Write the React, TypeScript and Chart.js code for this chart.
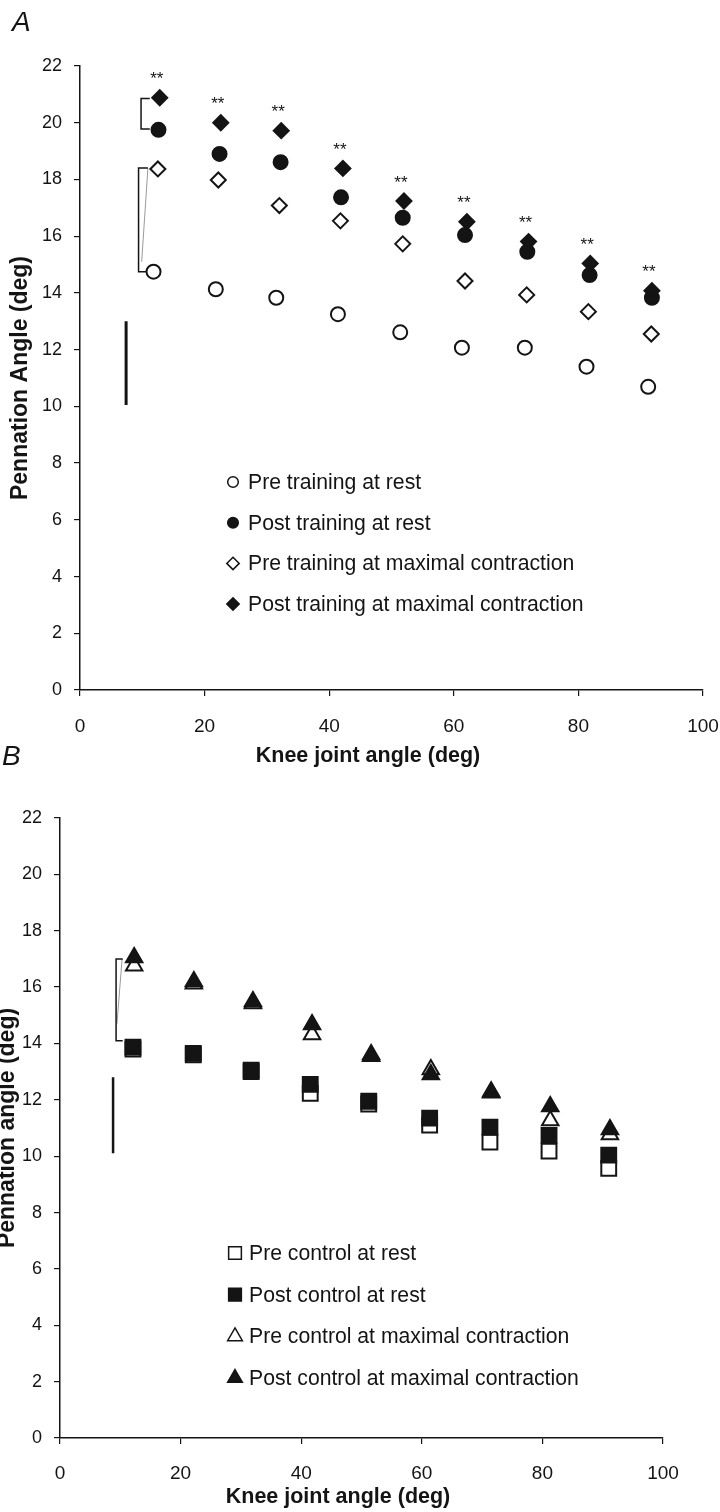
import React, { useEffect, useRef } from "react";
import { Chart, registerables } from "chart.js";

Chart.register(...registerables);

const FONT = "'Liberation Sans', Arial, Helvetica, sans-serif";
const INK = "#141414";

// ---- shared axis ticks ----
const xTickValues = [0, 20, 40, 60, 80, 100];
const yTickValues = [0, 2, 4, 6, 8, 10, 12, 14, 16, 18, 20, 22];
const xTitleText = "Knee joint angle (deg)";

// ---- Panel A (training group) ----
const aPreRestX = [11.8, 21.8, 31.5, 41.4, 51.4, 61.3, 71.4, 81.3, 91.2];
const aPreRestY = [14.75, 14.13, 13.83, 13.25, 12.61, 12.07, 12.07, 11.4, 10.69];
const aPostRestX = [12.6, 22.4, 32.2, 41.9, 51.8, 61.8, 71.8, 81.8, 91.8];
const aPostRestY = [19.75, 18.9, 18.61, 17.37, 16.65, 16.04, 15.45, 14.63, 13.83];
const aPreMaxX = [12.5, 22.2, 32.0, 41.8, 51.8, 61.8, 71.7, 81.6, 91.7];
const aPreMaxY = [18.37, 17.98, 17.08, 16.54, 15.73, 14.42, 13.93, 13.34, 12.55];
const aPostMaxX = [12.8, 22.6, 32.3, 42.2, 52.0, 62.1, 72.0, 81.9, 91.8];
const aPostMaxY = [20.88, 20.0, 19.72, 18.39, 17.24, 16.51, 15.81, 15.04, 14.08];
const aLabels = [
  "Pre training at rest",
  "Post training at rest",
  "Pre training at maximal contraction",
  "Post training at maximal contraction",
];
const aScaleBar = [{ x: 7.4, y: 13.0 }, { x: 7.4, y: 10.05 }];
const aBracketTop = [{ x: 11.2, y: 20.85 }, { x: 9.8, y: 20.85 }, { x: 9.8, y: 19.78 }, { x: 11.2, y: 19.78 }];
const aBracketLow = [{ x: 10.9, y: 18.4 }, { x: 9.4, y: 18.4 }, { x: 9.4, y: 14.75 }, { x: 10.9, y: 14.75 }];
const aBracketLowShade = [{ x: 10.9, y: 18.4 }, { x: 9.9, y: 15.1 }];

// ---- Panel B (control group) ----
const bRestX = [12.1, 22.1, 31.7, 41.5, 51.2, 61.3, 71.3, 81.1, 91.0];
const bPreRestY = [13.8, 13.6, 13.0, 12.23, 11.85, 11.1, 10.5, 10.18, 9.57];
const bPostRestY = [13.87, 13.65, 13.05, 12.55, 11.95, 11.35, 11.03, 10.74, 10.04];
const bMaxX = [12.3, 22.2, 32.0, 41.8, 51.6, 61.5, 71.5, 81.3, 91.2];
const bPreMaxY = [16.76, 16.12, 15.42, 14.32, 13.55, 13.08, 12.25, 11.27, 10.77];
const bPostMaxY = [17.05, 16.2, 15.49, 14.67, 13.61, 12.9, 12.29, 11.76, 10.95];
const bLabels = [
  "Pre control at rest",
  "Post control at rest",
  "Pre control at maximal contraction",
  "Post control at maximal contraction",
];
const bScaleBar = [{ x: 8.8, y: 12.8 }, { x: 8.8, y: 10.1 }];
const bBracket = [{ x: 10.4, y: 17.0 }, { x: 9.3, y: 17.0 }, { x: 9.3, y: 14.1 }, { x: 10.4, y: 14.1 }];
const bBracketShade = [{ x: 10.3, y: 17.0 }, { x: 9.45, y: 14.7 }];

type Style = "circle" | "rectRot" | "rect" | "triangle";

function drawMarker(ctx: CanvasRenderingContext2D, style: Style, x: number, y: number, r: number, filled: boolean, lw: number) {
  ctx.beginPath();
  if (style === "circle") ctx.arc(x, y, r, 0, Math.PI * 2);
  else if (style === "rectRot") {
    ctx.moveTo(x, y - r);
    ctx.lineTo(x + r, y);
    ctx.lineTo(x, y + r);
    ctx.lineTo(x - r, y);
    ctx.closePath();
  } else if (style === "rect") {
    const s = r * Math.SQRT1_2;
    ctx.rect(x - s, y - s, 2 * s, 2 * s);
  } else {
    ctx.moveTo(x, y - r);
    ctx.lineTo(x + r * 0.866, y + r / 2);
    ctx.lineTo(x - r * 0.866, y + r / 2);
    ctx.closePath();
  }
  ctx.fillStyle = filled ? INK : "#ffffff";
  ctx.fill();
  ctx.lineWidth = lw;
  ctx.strokeStyle = INK;
  ctx.stroke();
}

type LegendItem = { label: string; style: Style; filled: boolean; r: number };

type Overlay = {
  panel: { text: string; x: number; y: number };
  xTitle: { x: number; y: number };
  legend: { items: LegendItem[]; markerX: number; textX: number; y0: number; dy: number };
  stars?: { xs: number[]; ys: number[]; dx: number; dy: number };
};

function makeOverlay(cfg: Overlay) {
  return {
    id: "overlay",
    afterDraw(chart: any) {
      const ctx: CanvasRenderingContext2D = chart.ctx;
      const xs = chart.scales.x;
      const ys = chart.scales.y;
      ctx.save();
      ctx.fillStyle = INK;
      ctx.textBaseline = "middle";
      ctx.textAlign = "left";
      ctx.font = `italic 28px ${FONT}`;
      ctx.fillText(cfg.panel.text, cfg.panel.x, cfg.panel.y);
      ctx.textAlign = "center";
      ctx.font = `bold 21.5px ${FONT}`;
      ctx.fillText(xTitleText, cfg.xTitle.x, cfg.xTitle.y);
      if (cfg.stars) {
        ctx.font = `17px ${FONT}`;
        ctx.textAlign = "center";
        cfg.stars.xs.forEach((v, i) => {
          ctx.fillText("**", xs.getPixelForValue(v) + cfg.stars!.dx, ys.getPixelForValue(cfg.stars!.ys[i]) + cfg.stars!.dy);
        });
      }
      const L = cfg.legend;
      L.items.forEach((it, i) => {
        const cy = L.y0 + i * L.dy;
        drawMarker(ctx, it.style, L.markerX, cy, it.r, it.filled, 1.5);
        ctx.fillStyle = INK;
        ctx.textAlign = "left";
        ctx.font = `21.2px ${FONT}`;
        ctx.fillText(it.label, L.textX, cy + 1);
      });
      ctx.restore();
    },
  };
}

function pts(xs: number[], ys: number[]) {
  return xs.map((x, i) => ({ x, y: ys[i] }));
}

function markerSet(label: string, data: any[], style: Style, filled: boolean, r: number, order: number) {
  return {
    label,
    data,
    pointStyle: style,
    pointRadius: r,
    pointHoverRadius: r,
    pointBackgroundColor: filled ? INK : "#ffffff",
    pointBorderColor: INK,
    pointBorderWidth: 2,
    showLine: false,
    order,
  };
}

function lineSet(data: any[], color: string, width: number) {
  return {
    label: "",
    data,
    showLine: true,
    pointRadius: 0,
    pointHoverRadius: 0,
    borderColor: color,
    borderWidth: width,
    fill: false,
    order: 10,
  };
}

function axes(opts: { yTitle: string; yWidth: number; xHeight: number; yTitlePad: number; xPad: number }) {
  const grid = { drawOnChartArea: false, drawTicks: true, tickLength: 6, color: INK, lineWidth: 1.2 };
  const border = { display: true, color: INK, width: 1.5 };
  return {
    x: {
      type: "linear",
      min: 0,
      max: 100,
      afterBuildTicks: (s: any) => {
        s.ticks = xTickValues.map((v) => ({ value: v }));
      },
      afterFit: (s: any) => {
        s.height = opts.xHeight;
        s.paddingLeft = 0;
        s.paddingRight = 0;
      },
      grid,
      border,
      ticks: { font: { family: FONT, size: 19 }, color: INK, padding: opts.xPad, maxRotation: 0, autoSkip: false },
      title: { display: false },
    },
    y: {
      type: "linear",
      min: 0,
      max: 22,
      afterBuildTicks: (s: any) => {
        s.ticks = yTickValues.map((v) => ({ value: v }));
      },
      afterFit: (s: any) => {
        s.width = opts.yWidth;
        s.paddingTop = 0;
        s.paddingBottom = 0;
      },
      grid,
      border,
      ticks: { font: { family: FONT, size: 18 }, color: INK, padding: 12, autoSkip: false },
      title: {
        display: true,
        text: opts.yTitle,
        font: { family: FONT, size: 23, weight: "bold" },
        color: INK,
        padding: { top: opts.yTitlePad, bottom: 0 },
      },
    },
  };
}

function ChartCanvas({ config, width, height, top }: { config: () => any; width: number; height: number; top: number }) {
  const ref = useRef<HTMLCanvasElement | null>(null);
  useEffect(() => {
    if (!ref.current) return;
    const chart = new Chart(ref.current, config());
    return () => chart.destroy();
  }, []);
  return (
    <canvas
      ref={ref}
      width={width}
      height={height}
      style={{ position: "absolute", left: 0, top, width, height, display: "block" }}
    />
  );
}

function configA() {
  return {
    type: "scatter",
    data: {
      datasets: [
        markerSet(aLabels[3], pts(aPostMaxX, aPostMaxY), "rectRot", true, 7.5, 0),
        markerSet(aLabels[1], pts(aPostRestX, aPostRestY), "circle", true, 7, 1),
        markerSet(aLabels[2], pts(aPreMaxX, aPreMaxY), "rectRot", false, 7.5, 2),
        markerSet(aLabels[0], pts(aPreRestX, aPreRestY), "circle", false, 7, 3),
        lineSet(aScaleBar, INK, 3),
        lineSet(aBracketTop, INK, 1.5),
        lineSet(aBracketLow, INK, 1.5),
        lineSet(aBracketLowShade, "#9a9a9a", 1),
      ],
    },
    options: {
      responsive: false,
      animation: false,
      layout: { padding: { left: 0, right: 17, top: 66, bottom: 0 } },
      plugins: { legend: { display: false }, tooltip: { enabled: false } },
      scales: axes({ yTitle: "Pennation Angle (deg)", yWidth: 80, xHeight: 80, yTitlePad: 7, xPad: 19 }),
    },
    plugins: [
      makeOverlay({
        panel: { text: "A", x: 12, y: 23 },
        xTitle: { x: 368, y: 756 },
        legend: {
          items: [
            { label: aLabels[0], style: "circle", filled: false, r: 5.3 },
            { label: aLabels[1], style: "circle", filled: true, r: 5.3 },
            { label: aLabels[2], style: "rectRot", filled: false, r: 6.2 },
            { label: aLabels[3], style: "rectRot", filled: true, r: 6.2 },
          ],
          markerX: 233,
          textX: 248,
          y0: 482,
          dy: 40.7,
        },
        stars: { xs: aPostMaxX, ys: aPostMaxY, dx: -3, dy: -18 },
      }),
    ],
  };
}

function configB() {
  return {
    type: "scatter",
    data: {
      datasets: [
        markerSet(bLabels[3], pts(bMaxX, bPostMaxY), "triangle", true, 9.5, 0),
        markerSet(bLabels[1], pts(bRestX, bPostRestY), "rect", true, 10.5, 1),
        markerSet(bLabels[2], pts(bMaxX, bPreMaxY), "triangle", false, 9.5, 2),
        markerSet(bLabels[0], pts(bRestX, bPreRestY), "rect", false, 10.5, 3),
        lineSet(bScaleBar, INK, 2.5),
        lineSet(bBracket, INK, 1.5),
        lineSet(bBracketShade, "#9a9a9a", 1),
      ],
    },
    options: {
      responsive: false,
      animation: false,
      layout: { padding: { left: 0, right: 57, top: 78, bottom: 0 } },
      plugins: { legend: { display: false }, tooltip: { enabled: false } },
      scales: axes({ yTitle: "Pennation angle (deg)", yWidth: 60, xHeight: 74, yTitlePad: -6, xPad: 18 }),
    },
    plugins: [
      makeOverlay({
        panel: { text: "B", x: 2, y: 17 },
        xTitle: { x: 338, y: 757 },
        legend: {
          items: [
            { label: bLabels[0], style: "rect", filled: false, r: 9 },
            { label: bLabels[1], style: "rect", filled: true, r: 9 },
            { label: bLabels[2], style: "triangle", filled: false, r: 8.5 },
            { label: bLabels[3], style: "triangle", filled: true, r: 8.5 },
          ],
          markerX: 235,
          textX: 249,
          y0: 513,
          dy: 41.7,
        },
      }),
    ],
  };
}

export default function App() {
  useEffect(() => {
    document.body.style.margin = "0";
    document.body.style.background = "#ffffff";
  }, []);
  return (
    <div style={{ position: "relative", width: 720, height: 1512, background: "#ffffff", overflow: "hidden" }}>
      <ChartCanvas config={configA} width={720} height={770} top={0} />
      <ChartCanvas config={configB} width={720} height={772} top={740} />
    </div>
  );
}
